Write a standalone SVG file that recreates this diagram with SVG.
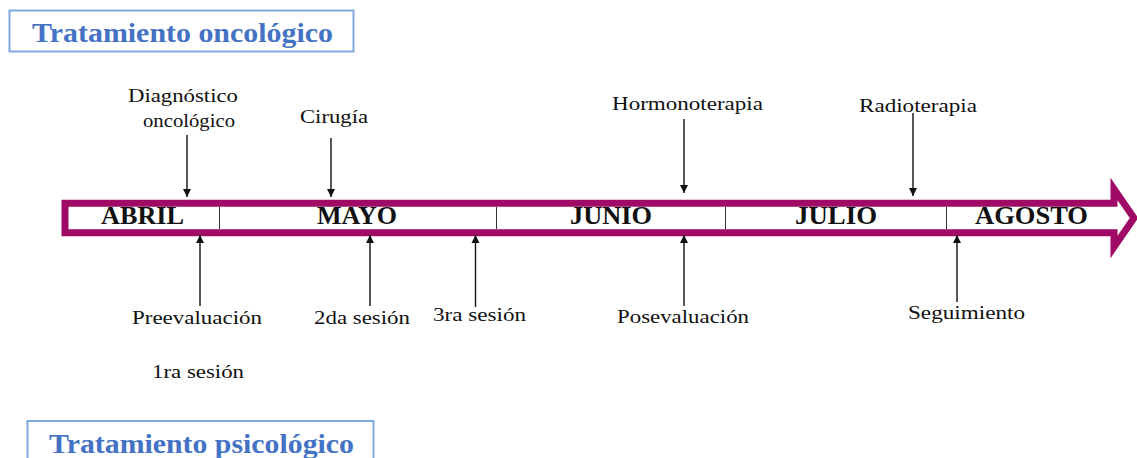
<svg xmlns="http://www.w3.org/2000/svg" width="1137" height="458" viewBox="0 0 1137 458">
<style>
.lbl{font-family:"Liberation Serif","Times New Roman",serif;font-size:19px;fill:#111}
.mon{font-family:"Liberation Serif","Times New Roman",serif;font-size:25px;font-weight:bold;fill:#111}
.ttl{font-family:"Liberation Serif","Times New Roman",serif;font-size:28px;font-weight:bold;fill:#4472C4}
.tbox{fill:#fff;stroke:#7FA7E0;stroke-width:2}
.con{stroke:#111;stroke-width:1.4;fill:none;marker-end:url(#ah)}
.div{stroke:#333;stroke-width:1}
</style>
<defs>
<marker id="ah" viewBox="0 0 10 10" refX="10" refY="5" markerWidth="8" markerHeight="9" markerUnits="userSpaceOnUse" orient="auto">
<path d="M0,0 L10,5 L0,10 z" fill="#111"/>
</marker>
</defs>
<rect width="1137" height="458" fill="#fff"/>

<g id="title-oncologico">
<rect class="tbox" x="9.5" y="10.5" width="344" height="41"/>
<text class="ttl" x="32" y="42" textLength="301" lengthAdjust="spacingAndGlyphs">Tratamiento oncológico</text>
</g>

<g id="title-psicologico">
<rect class="tbox" x="27.5" y="421" width="346" height="50"/>
<text class="ttl" x="49" y="452.5" textLength="305" lengthAdjust="spacingAndGlyphs">Tratamiento psicológico</text>
</g>

<g id="timeline">
<path d="M65,203.3 H1114 V189 L1134,218 L1114,247 V232.7 H65 Z" fill="#fff" stroke="#9E0A66" stroke-width="7" stroke-linejoin="miter" stroke-miterlimit="10"/>
<line class="div" x1="219.5" y1="207" x2="219.5" y2="229"/>
<line class="div" x1="496.5" y1="207" x2="496.5" y2="229"/>
<line class="div" x1="725.5" y1="207" x2="725.5" y2="229" stroke="#888"/>
<line class="div" x1="946.5" y1="207" x2="946.5" y2="229"/>
</g>

<g id="month-abril"><text class="mon" x="101" y="224" textLength="83" lengthAdjust="spacingAndGlyphs">ABRIL</text></g>
<g id="month-mayo"><text class="mon" x="317" y="224" textLength="80" lengthAdjust="spacingAndGlyphs">MAYO</text></g>
<g id="month-junio"><text class="mon" x="570" y="224" textLength="82" lengthAdjust="spacingAndGlyphs">JUNIO</text></g>
<g id="month-julio"><text class="mon" x="795" y="224" textLength="82" lengthAdjust="spacingAndGlyphs">JULIO</text></g>
<g id="month-agosto"><text class="mon" x="975" y="224" textLength="113" lengthAdjust="spacingAndGlyphs">AGOSTO</text></g>

<g id="node-diagnostico">
<text class="lbl" x="128" y="102" textLength="110" lengthAdjust="spacingAndGlyphs">Diagnóstico</text>
<text class="lbl" x="143" y="127" textLength="92" lengthAdjust="spacingAndGlyphs">oncológico</text>
</g>
<g id="node-cirugia"><text class="lbl" x="300" y="123" textLength="68" lengthAdjust="spacingAndGlyphs">Cirugía</text></g>
<g id="node-hormonoterapia"><text class="lbl" x="612" y="110" textLength="151" lengthAdjust="spacingAndGlyphs">Hormonoterapia</text></g>
<g id="node-radioterapia"><text class="lbl" x="859" y="112" textLength="118" lengthAdjust="spacingAndGlyphs">Radioterapia</text></g>
<g id="node-preevaluacion"><text class="lbl" x="132" y="324" textLength="130" lengthAdjust="spacingAndGlyphs">Preevaluación</text></g>
<g id="node-1ra-sesion"><text class="lbl" x="152" y="378" textLength="92" lengthAdjust="spacingAndGlyphs">1ra sesión</text></g>
<g id="node-2da-sesion"><text class="lbl" x="314" y="324" textLength="96" lengthAdjust="spacingAndGlyphs">2da sesión</text></g>
<g id="node-3ra-sesion"><text class="lbl" x="433" y="321" textLength="93" lengthAdjust="spacingAndGlyphs">3ra sesión</text></g>
<g id="node-posevaluacion"><text class="lbl" x="617" y="323" textLength="132" lengthAdjust="spacingAndGlyphs">Posevaluación</text></g>
<g id="node-seguimiento"><text class="lbl" x="908" y="319" textLength="117" lengthAdjust="spacingAndGlyphs">Seguimiento</text></g>

<g id="connectors">
<line class="con" x1="187" y1="135" x2="187" y2="197"/>
<line class="con" x1="331" y1="138" x2="331" y2="197"/>
<line class="con" x1="684" y1="119" x2="684" y2="193"/>
<line class="con" x1="913" y1="113" x2="913" y2="196"/>
<line class="con" x1="200" y1="306" x2="200" y2="235"/>
<line class="con" x1="370" y1="306" x2="370" y2="235"/>
<line class="con" x1="475.5" y1="307" x2="475.5" y2="235"/>
<line class="con" x1="684" y1="306" x2="684" y2="235"/>
<line class="con" x1="957" y1="302" x2="957" y2="235"/>
</g>
</svg>
